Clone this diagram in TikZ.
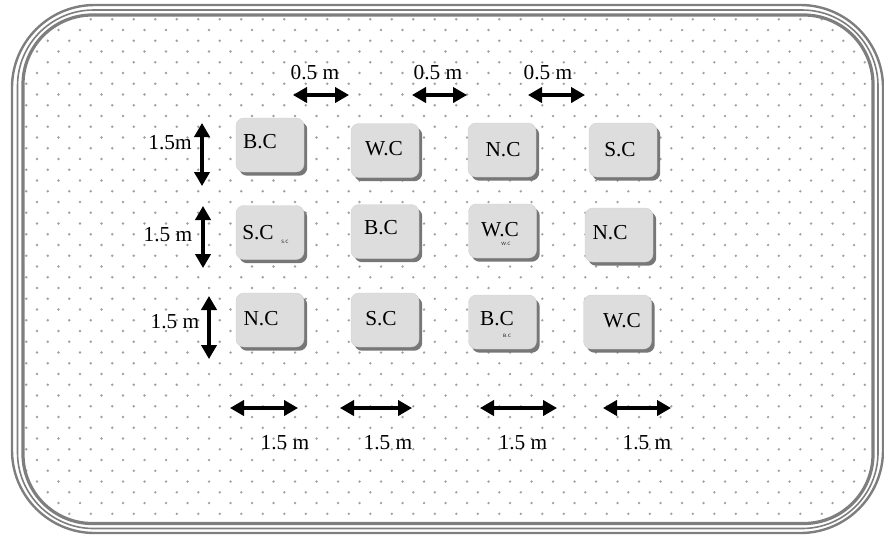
\documentclass[tikz,border=0pt]{standalone}
\usepackage{fontspec}
\setmainfont{Liberation Serif}
\usetikzlibrary{arrows.meta, shadows}

\definecolor{framegray}{HTML}{7E7E7E}
\definecolor{dotgray}{HTML}{A0A0A0}
\definecolor{pitfill}{HTML}{DDDDDD}
\definecolor{pitshadow}{HTML}{777777}

\tikzset{
  pit/.style={rounded corners=6pt, fill=pitfill, draw=black!18, line width=0.3pt,
    minimum width=51pt, minimum height=40.5pt, inner sep=0pt,
    drop shadow={shadow xshift=2.4pt, shadow yshift=-2.8pt, fill=pitshadow, opacity=1}},
  lab/.style={font=\fontsize{16}{18}\selectfont, inner sep=0pt},
  tinylab/.style={font=\fontsize{3.5}{4}\selectfont\sffamily, inner sep=0pt},
  dim/.style={line width=2.3pt, {Triangle[length=10.5pt,width=11.5pt]}-{Triangle[length=10.5pt,width=11.5pt]}},
}

\begin{document}
\begin{tikzpicture}[x=0.75pt, y=-0.75pt]
  \useasboundingbox (0,0) rectangle (884,537);
  % dotted ground
  \begin{scope}
    \clip[rounded corners=52pt] (23,15) rectangle (873,523);
    \foreach \r in {-1,...,47}
    {
      \pgfmathsetmacro\yy{30+10.75*\r}
      \pgfmathsetmacro\xo{4.75+10.75*(1-mod(\r+2,2))}
      \foreach \c in {0,...,41}
        \fill[dotgray] (\xo+21.5*\c,\yy) circle (0.95pt);
    }
  \end{scope}
  % frame
  \draw[framegray, line width=1.8pt, rounded corners=62pt] (12,5) rectangle (883,533);
  \draw[framegray, line width=1.2pt, rounded corners=57pt] (17.5,10) rectangle (878,528.5);
  \draw[framegray, line width=2.4pt, rounded corners=52pt] (23,15) rectangle (873,523.5);

  % pits, row by row
  \node[pit] (r1c1) at (270,145) {};
  \node[pit] (r1c2) at (385,150.5) {};
  \node[pit] (r1c3) at (502,150) {};
  \node[pit] (r1c4) at (623,150) {};
  \node[pit] (r2c1) at (270,232.5) {};
  \node[pit] (r2c2) at (385,231.5) {};
  \node[pit] (r2c3) at (502.5,231) {};
  \node[pit] (r2c4) at (619,235) {};
  \node[pit] (r3c1) at (270,320) {};
  \node[pit] (r3c2) at (385,320) {};
  \node[pit] (r3c3) at (502.5,322) {};
  \node[pit] (r3c4) at (617.5,322) {};

  \node[lab] (t11) at (260,142) {B.C};
  \node[lab] (t12) at (384,149) {W.C};
  \node[lab] (t13) at (503,150) {N.C};
  \node[lab] (t14) at (620,150) {S.C};
  \node[lab] (t21) at (258,233) {S.C};
  \node[tinylab] (s21) at (285,242) {S.C};
  \node[lab] (t22) at (381,228) {B.C};
  \node[lab] (t23) at (500,230) {W.C};
  \node[tinylab] (s23) at (506,244) {W.C};
  \node[lab] (t24) at (610,233) {N.C};
  \node[lab] (t31) at (261,319) {N.C};
  \node[lab] (t32) at (381,319) {S.C};
  \node[lab] (t33) at (497,319) {B.C};
  \node[tinylab] (s33) at (507,336) {B.C};
  \node[lab] (t34) at (622,321) {W.C};

  % gaps between pits
  \foreach \xa/\xb/\xl in {293/349/315, 412/467/438, 528/585/548}
  {
    \draw[dim] (\xa,95) -- (\xb,95);
    \node[lab] at (\xl,73) {0.5 m};
  }
  % pit lengths
  \draw[dim] (202,123) -- (202,186);
  \node[lab] (v1) at (170,143) {1.5m};
  \draw[dim] (203,206) -- (203,268);
  \node[lab] (v2) at (168,235) {1.5 m};
  \draw[dim] (209,296) -- (209,359);
  \node[lab] (v3) at (175,322) {1.5 m};
  % pit widths
  \foreach \xa/\xb/\xl in {230/298/285, 340/412/388, 480/557/523, 603/671/647}
  {
    \draw[dim] (\xa,408) -- (\xb,408);
    \node[lab] at (\xl,443) {1.5 m};
  }
\end{tikzpicture}
\end{document}
